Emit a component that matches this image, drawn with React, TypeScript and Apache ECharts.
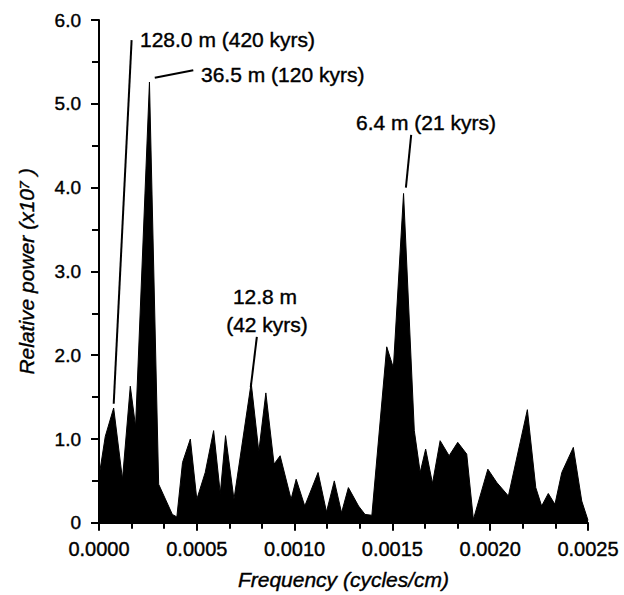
import React, { useEffect, useRef } from "react";
import * as echarts from "echarts";

const frequencies = [
  0, 0.000032, 0.000075, 0.00012, 0.00016, 0.000187, 0.000258, 0.000305, 0.000375, 0.000398,
  0.000427, 0.000467, 0.0005, 0.000543, 0.000586, 0.00062, 0.000647, 0.00069, 0.000778, 0.000817,
  0.000853, 0.000895, 0.000926, 0.000982, 0.001008, 0.001052, 0.00112, 0.001163, 0.001203, 0.00124,
  0.001275, 0.001327, 0.00136, 0.001395, 0.001471, 0.001505, 0.001557, 0.001612, 0.001642, 0.00167,
  0.001705, 0.001744, 0.00179, 0.001834, 0.00188, 0.001914, 0.001988, 0.002034, 0.002093, 0.00219,
  0.002233, 0.002263, 0.002297, 0.002331, 0.002366, 0.002425, 0.002468, 0.0025,
];
const power = [
  0.55, 1.03, 1.37, 0.52, 1.63, 1.15, 5.26, 0.46, 0.1, 0.07,
  0.72, 1.0, 0.28, 0.6, 1.1, 0.35, 1.04, 0.28, 1.67, 0.85,
  1.55, 0.7, 0.8, 0.28, 0.52, 0.2, 0.6, 0.13, 0.5, 0.12,
  0.42, 0.2, 0.1, 0.09, 2.1, 1.85, 3.93, 1.1, 0.6, 0.88,
  0.47, 0.98, 0.8, 0.96, 0.82, 0.04, 0.64, 0.48, 0.32, 1.35,
  0.42, 0.2, 0.35, 0.22, 0.6, 0.9, 0.26, 0.03,
];

// annotation leader lines: [x1, y1, x2, y2] in data units
const leaderLines = [
  [0.0000752, 1.42, 0.0001667, 5.76],
  [0.000285, 5.31, 0.000482, 5.4],
  [0.000807, 2.22, 0.000776, 1.62],
  [0.001596, 4.63, 0.001569, 4.0],
];
const annotationTexts = ["128.0 m (420 kyrs)", "36.5 m (120 kyrs)", "12.8 m", "(42 kyrs)", "6.4 m (21 kyrs)"];

const FONT = "'Liberation Sans', Arial, Helvetica, sans-serif";

export default function App() {
  const ref = useRef<HTMLDivElement>(null);
  useEffect(() => {
    if (!ref.current) return;
    const chart = echarts.init(ref.current, null, { renderer: "svg" });
    const data = frequencies.map((f, i) => [f, power[i]]);
    const textStyle = (x: number, y: number, text: string, align = "left") => ({
      type: "text",
      x,
      y,
      silent: true,
      style: {
        text,
        fill: "#000",
        font: `21px ${FONT}`,
        textAlign: align,
        textVerticalAlign: "middle",
        stroke: "#000",
        lineWidth: 0.4,
      },
    });
    const heavy = { textBorderColor: "#000", textBorderWidth: 0.4 };
    chart.setOption({
      animation: false,
      backgroundColor: "#fff",
      grid: { left: 99, right: 36, top: 20, bottom: 68 },
      xAxis: {
        type: "value",
        min: 0,
        max: 0.0025,
        interval: 0.0005,
        name: "Frequency (cycles/cm)",
        nameLocation: "middle",
        nameGap: 46,
        nameTextStyle: { fontFamily: FONT, fontStyle: "italic", fontSize: 21, color: "#000", ...heavy },
        axisLine: { lineStyle: { color: "#000", width: 2 } },
        axisTick: { length: 8, lineStyle: { color: "#000", width: 2 } },
        minorTick: { show: true, splitNumber: 3, length: 6, lineStyle: { color: "#000", width: 2 } },
        splitLine: { show: false },
        minorSplitLine: { show: false },
        axisLabel: {
          fontFamily: FONT,
          fontSize: 20,
          color: "#000",
          margin: 16,
          ...heavy,
          formatter: (v: number) => v.toFixed(4),
        },
      },
      yAxis: {
        type: "value",
        min: 0,
        max: 6,
        interval: 1,
        name: "Relative power (x10⁷ )",
        nameLocation: "middle",
        nameGap: 62,
        nameRotate: 90,
        nameTextStyle: { fontFamily: FONT, fontStyle: "italic", fontSize: 21, color: "#000", ...heavy },
        axisLine: { show: true, lineStyle: { color: "#000", width: 2 } },
        axisTick: { show: true, length: 8, lineStyle: { color: "#000", width: 2 } },
        minorTick: { show: true, splitNumber: 2, length: 7, lineStyle: { color: "#000", width: 2 } },
        splitLine: { show: false },
        minorSplitLine: { show: false },
        axisLabel: {
          fontFamily: FONT,
          fontSize: 19,
          color: "#000",
          margin: 18,
          ...heavy,
          formatter: (v: number) => (v === 0 ? "0" : v.toFixed(1)),
        },
      },
      series: [
        {
          type: "line",
          data,
          symbol: "none",
          lineStyle: { color: "#000", width: 1 },
          areaStyle: { color: "#000", opacity: 1 },
          markLine: {
            silent: true,
            symbol: ["none", "none"],
            label: { show: false },
            lineStyle: { color: "#000", width: 2, type: "solid" },
            data: leaderLines.map((l) => [{ coord: [l[0], l[1]] }, { coord: [l[2], l[3]] }]),
          },
        },
      ],
      graphic: [
        textStyle(140, 39, annotationTexts[0]),
        textStyle(201, 74, annotationTexts[1]),
        textStyle(265, 296, annotationTexts[2], "center"),
        textStyle(267, 324, annotationTexts[3], "center"),
        textStyle(426, 122, annotationTexts[4], "center"),
      ],
    });
    return () => chart.dispose();
  }, []);
  return (
    <div
      ref={ref}
      style={{ position: "absolute", left: 0, top: 0, width: 624, height: 595 }}
    />
  );
}
